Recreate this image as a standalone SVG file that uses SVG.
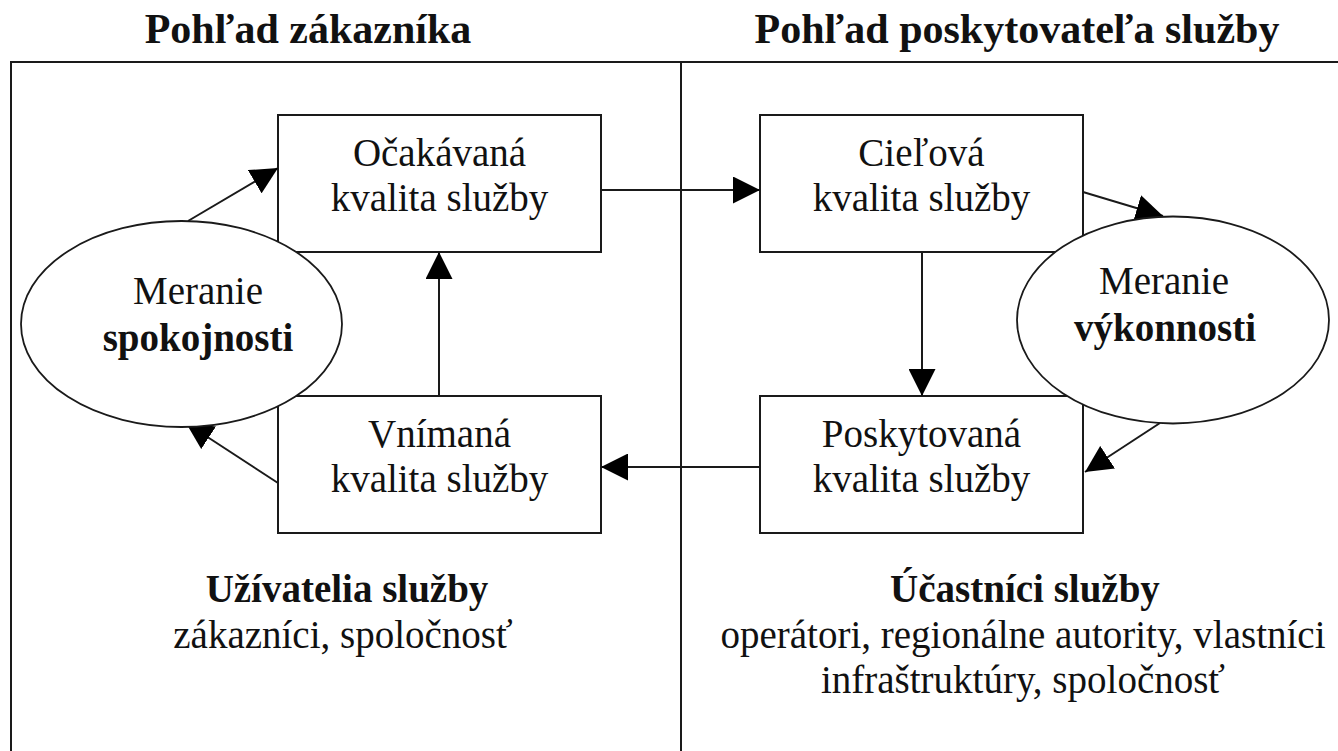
<svg xmlns="http://www.w3.org/2000/svg" width="1338" height="751" viewBox="0 0 1338 751">
  <defs>
    <style>
      .frame { fill: none; stroke: #1a1a1a; stroke-width: 2; }
      .box { fill: #ffffff; stroke: #1a1a1a; stroke-width: 2; }
      .oval { fill: #ffffff; stroke: #1a1a1a; stroke-width: 1.8; }
      .conn { fill: none; stroke: #1a1a1a; stroke-width: 2; marker-end: url(#arrow); }
      text { font-family: "Liberation Serif", "Times New Roman", serif; fill: #111111; text-anchor: middle; }
      .title { font-size: 42px; font-weight: bold; }
      .lbl { font-size: 39px; }
      .b { font-weight: bold; }
    </style>
    <marker id="arrow" markerUnits="userSpaceOnUse" markerWidth="27" markerHeight="27" refX="27" refY="13.5" orient="auto">
      <path d="M0,0 L27,13.5 L0,27 z" fill="#000000"/>
    </marker>
  </defs>

  <rect width="1338" height="751" fill="#ffffff"/>

  <!-- headings above the two halves -->
  <g id="headings">
    <text class="title" x="308" y="43">Pohľad zákazníka</text>
    <text class="title" x="1017" y="43">Pohľad poskytovateľa služby</text>
  </g>

  <!-- outer frame and the divider between the two views -->
  <g id="frame">
    <rect class="frame" x="11" y="62" width="1345" height="710"/>
    <line class="frame" x1="681" y1="62" x2="681" y2="760"/>
  </g>

  <!-- quality boxes -->
  <g id="ocakavana">
    <rect class="box" x="278" y="115" width="323" height="137"/>
    <text class="lbl" x="439.5" y="166">Očakávaná</text>
    <text class="lbl" x="439.5" y="211">kvalita služby</text>
  </g>
  <g id="vnimana">
    <rect class="box" x="278" y="396" width="323" height="137"/>
    <text class="lbl" x="439.5" y="447">Vnímaná</text>
    <text class="lbl" x="439.5" y="492">kvalita služby</text>
  </g>
  <g id="cielova">
    <rect class="box" x="760" y="115" width="323" height="137"/>
    <text class="lbl" x="921.5" y="166">Cieľová</text>
    <text class="lbl" x="921.5" y="211">kvalita služby</text>
  </g>
  <g id="poskytovana">
    <rect class="box" x="760" y="396" width="323" height="137"/>
    <text class="lbl" x="921.5" y="447">Poskytovaná</text>
    <text class="lbl" x="921.5" y="492">kvalita služby</text>
  </g>

  <!-- connectors -->
  <g id="connectors">
    <line class="conn" x1="188" y1="221" x2="278" y2="168"/>
    <line class="conn" x1="439" y1="396" x2="439" y2="252"/>
    <line class="conn" x1="278" y1="483" x2="186" y2="423"/>
    <line class="conn" x1="601" y1="190" x2="760" y2="190"/>
    <line class="conn" x1="1083" y1="192" x2="1163" y2="216"/>
    <line class="conn" x1="922" y1="252" x2="922" y2="396"/>
    <line class="conn" x1="1160" y1="423" x2="1085" y2="472"/>
    <line class="conn" x1="759" y1="467" x2="601" y2="467"/>
  </g>

  <!-- measurement ovals, drawn over box corners and arrow tips -->
  <g id="meranie-spokojnosti">
    <ellipse class="oval" cx="181.5" cy="324" rx="160.5" ry="103"/>
    <text class="lbl" x="198" y="304">Meranie</text>
    <text class="lbl b" x="198" y="351">spokojnosti</text>
  </g>
  <g id="meranie-vykonnosti">
    <ellipse class="oval" cx="1173" cy="320" rx="156" ry="103.5"/>
    <text class="lbl" x="1164" y="294">Meranie</text>
    <text class="lbl b" x="1165" y="341">výkonnosti</text>
  </g>

  <!-- stakeholder captions -->
  <g id="uzivatelia">
    <text class="lbl b" x="347" y="602">Užívatelia služby</text>
    <text class="lbl" x="343" y="648">zákazníci, spoločnosť</text>
  </g>
  <g id="ucastnici">
    <text class="lbl b" x="1025" y="602">Účastníci služby</text>
    <text class="lbl" x="1023" y="648">operátori, regionálne autority, vlastníci</text>
    <text class="lbl" x="1023" y="693">infraštruktúry, spoločnosť</text>
  </g>
</svg>
